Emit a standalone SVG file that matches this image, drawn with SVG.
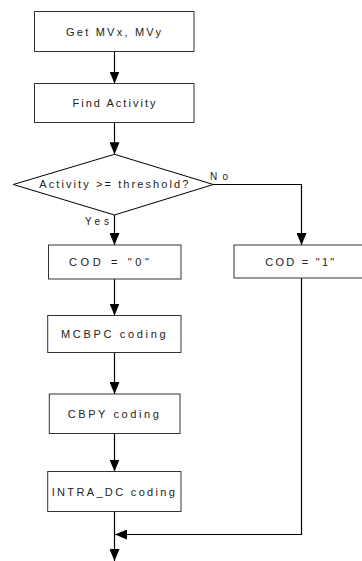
<svg xmlns="http://www.w3.org/2000/svg" width="362" height="561" viewBox="0 0 362 561">
<style>
.box{fill:#fff;stroke:#333;stroke-width:1}
.ln{fill:none;stroke:#000;stroke-width:1.2;marker-end:url(#ah)}
text{font-family:"Liberation Sans",Arial,sans-serif;font-size:11px;fill:#222;text-anchor:middle}
.lbl{font-size:10px;text-anchor:start}
</style>
<defs>
<marker id="ah" markerUnits="userSpaceOnUse" markerWidth="12" markerHeight="10" viewBox="0 0 12 10" refX="12" refY="5" orient="auto">
<path d="M0,0 L12,5 L0,10 z" fill="#000"/>
</marker>
</defs>
<rect width="362" height="561" fill="#fff"/>
<g id="connectors">
<path class="ln" d="M114.5,51.5 V83.5"/>
<path class="ln" d="M114.5,122.5 V154.3"/>
<path class="ln" d="M114.5,215 V245"/>
<path class="ln" d="M213,184.5 H301.5 V245"/>
<path class="ln" d="M114.5,279 V315.5"/>
<path class="ln" d="M114.5,352.5 V394"/>
<path class="ln" d="M114.5,433.5 V471.5"/>
<path class="ln" d="M114.5,511.5 V561"/>
<path class="ln" d="M301.5,278 V534.5 H115"/>
<text class="lbl" x="210" y="180" textLength="18" lengthAdjust="spacing">No</text>
<text class="lbl" x="85" y="225" textLength="24" lengthAdjust="spacing">Yes</text>
</g>
<g id="n1">
<rect class="box" x="34.5" y="11.5" width="159.5" height="40"/>
<text x="113.5" y="35.5" textLength="95" lengthAdjust="spacing">Get MVx, MVy</text>
</g>
<g id="n2">
<rect class="box" x="34.5" y="83.5" width="159.5" height="39"/>
<text x="114" y="107" textLength="83" lengthAdjust="spacing">Find Activity</text>
</g>
<g id="n3">
<polygon class="box" points="114.5,154.3 213.3,184.5 114.5,215 13.3,184.5" style="stroke:#000"/>
<text x="113.8" y="188.3" textLength="149" lengthAdjust="spacing">Activity &gt;= threshold?</text>
</g>
<g id="n4">
<rect class="box" x="48.5" y="245" width="132.5" height="34"/>
<text x="109" y="265.5" textLength="80" lengthAdjust="spacing">COD = "0"</text>
</g>
<g id="n5">
<rect class="box" x="234" y="245" width="135" height="33"/>
<text x="299.7" y="265.5" textLength="69" lengthAdjust="spacing">COD = "1"</text>
</g>
<g id="n6">
<rect class="box" x="47.7" y="315.5" width="133.3" height="37"/>
<text x="113.3" y="338" textLength="104.7" lengthAdjust="spacing">MCBPC coding</text>
</g>
<g id="n7">
<rect class="box" x="49.3" y="394" width="130.7" height="39.5"/>
<text x="113.3" y="418" textLength="91.3" lengthAdjust="spacing">CBPY coding</text>
</g>
<g id="n8">
<rect class="box" x="47.7" y="471.5" width="133.3" height="40"/>
<text x="113.3" y="495.5" textLength="123.3" lengthAdjust="spacing">INTRA_DC coding</text>
</g>
</svg>
